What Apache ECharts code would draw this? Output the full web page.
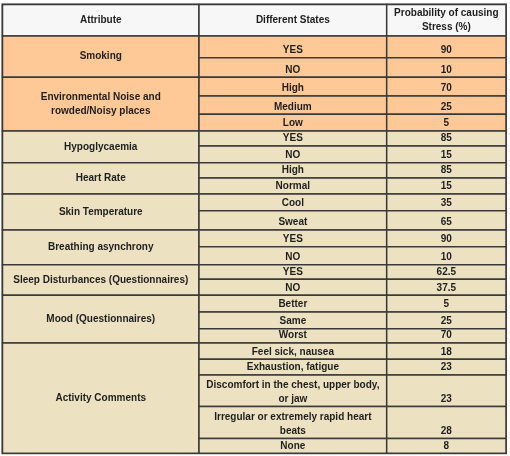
<!DOCTYPE html>
<html>
<head>
<meta charset="utf-8">
<script src="https://cdn.jsdelivr.net/npm/echarts@6/dist/echarts.min.js"></script>
<style>
  html, body { margin: 0; padding: 0; background: #ffffff; }
  #chart { width: 510px; height: 456px; }
</style>
</head>
<body>
<div id="chart"></div>
<script>
// ---- data ----
const headers = ["Attribute", "Different States", "Probability of causing\nStress (%)"];
const attributes = [
  "Smoking",
  "Environmental Noise and\nrowded/Noisy places",
  "Hypoglycaemia",
  "Heart Rate",
  "Skin Temperature",
  "Breathing asynchrony",
  "Sleep Disturbances (Questionnaires)",
  "Mood (Questionnaires)",
  "Activity Comments"
];
const states = [
  ["YES", "NO"],
  ["High", "Medium", "Low"],
  ["YES", "NO"],
  ["High", "Normal"],
  ["Cool", "Sweat"],
  ["YES", "NO"],
  ["YES", "NO"],
  ["Better", "Same", "Worst"],
  ["Feel sick, nausea", "Exhaustion, fatigue", "Discomfort in the chest, upper body,\nor jaw", "Irregular or extremely rapid heart\nbeats", "None"]
];
const probabilities = [
  [90, 10],
  [70, 25, 5],
  [85, 15],
  [85, 15],
  [35, 65],
  [90, 10],
  [62.5, 37.5],
  [5, 25, 70],
  [18, 23, 23, 28, 8]
];

// ---- layout / style ----
const colWidths = [196.5, 187.7, 119.3];
const headerHeight = 31.5;
const rowHeights = [
  [21.8, 19.5],
  [18.7, 18.3, 16.7],
  [15.0, 16.7],
  [15.3, 16.0],
  [16.7, 19.3],
  [16.7, 18.0],
  [14.6, 16.0],
  [16.7, 16.7, 14.3],
  [16.3, 15.7, 31.5, 32.0, 14.8]
];
const orangeGroupCount = 2;
const COLORS = { header: '#f7f7f7', orange: '#FFC997', beige: '#ECE2C2', line: '#3a3a3a', text: '#1e1e1e' };

// ---- build cells (in axis units) ----
const xEdges = [0];
colWidths.forEach(w => xEdges.push(xEdges[xEdges.length - 1] + w));
const cells = [];   // [x0, y0, x1, y1]
const meta = [];    // {text, fill, valign}
let y = 0;
headers.forEach((h, i) => {
  cells.push([xEdges[i], y, xEdges[i + 1], y + headerHeight]);
  meta.push({ text: h, fill: COLORS.header, valign: 'middle' });
});
y += headerHeight;
attributes.forEach((attr, g) => {
  const fill = g < orangeGroupCount ? COLORS.orange : COLORS.beige;
  const hs = rowHeights[g];
  const total = hs.reduce((a, b) => a + b, 0);
  cells.push([xEdges[0], y, xEdges[1], y + total]);
  meta.push({ text: attr, fill, valign: 'middle' });
  let ry = y;
  states[g].forEach((s, k) => {
    cells.push([xEdges[1], ry, xEdges[2], ry + hs[k]]);
    meta.push({ text: s, fill, valign: 'bottom' });
    cells.push([xEdges[2], ry, xEdges[3], ry + hs[k]]);
    meta.push({ text: String(probabilities[g][k]), fill, valign: 'bottom' });
    ry += hs[k];
  });
  y += total;
});
const totalHeight = y;

const chart = echarts.init(document.getElementById('chart'), null, { renderer: 'canvas' });
chart.setOption({
  animation: false,
  backgroundColor: '#ffffff',
  grid: { left: 2.5, top: 4.5, width: xEdges[3], height: totalHeight, show: true, borderColor: '#555555', borderWidth: 2, backgroundColor: 'transparent' },
  xAxis: { type: 'value', min: 0, max: xEdges[3], show: false },
  yAxis: { type: 'value', min: 0, max: totalHeight, inverse: true, show: false },
  series: [{
    type: 'custom',
    coordinateSystem: 'cartesian2d',
    data: cells,
    encode: { x: [0, 2], y: [1, 3] },
    renderItem: function (params, api) {
      const m = meta[params.dataIndex];
      const p0 = api.coord([api.value(0), api.value(1)]);
      const p1 = api.coord([api.value(2), api.value(3)]);
      const ty = m.valign === 'bottom' ? p1[1] - 0.5 : (p0[1] + p1[1]) / 2;
      return {
        type: 'group',
        children: [
          {
            type: 'rect',
            shape: { x: p0[0], y: p0[1], width: p1[0] - p0[0], height: p1[1] - p0[1] },
            style: { fill: m.fill, stroke: COLORS.line, lineWidth: 1.5 }
          },
          {
            type: 'text',
            x: (p0[0] + p1[0]) / 2,
            y: ty,
            style: {
              text: m.text,
              fill: COLORS.text,
              font: 'bold 10px "Liberation Sans", Arial, sans-serif',
              align: 'center',
              verticalAlign: m.valign,
              lineHeight: 14
            }
          }
        ]
      };
    }
  }]
});
</script>
</body>
</html>
